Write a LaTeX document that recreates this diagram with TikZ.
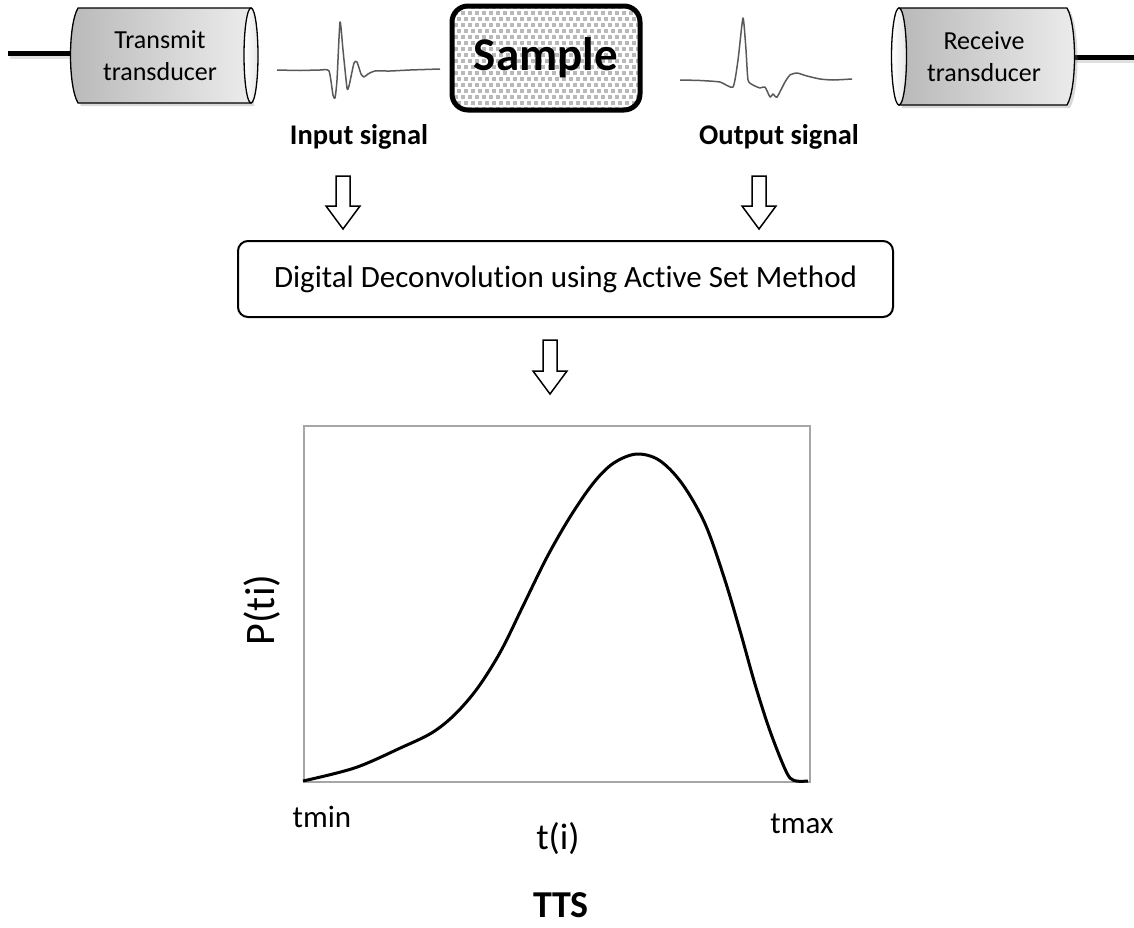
\documentclass[tikz,border=0pt]{standalone}
\usepackage{fontspec}
\setmainfont{Carlito}[Ligatures=NoCommon]
\usetikzlibrary{positioning, calc, shadows}

\newcommand{\fsize}[2]{\fontsize{#1}{#2}\selectfont}
% hollow block arrow between two named coordinates
\newcommand{\blockarrow}[2]{%
  \draw[hollowarrow] let \p1=(#1), \p2=(#2) in
    (\x1-7pt,\y1) -- (\x1+7pt,\y1) -- (\x1+7pt,\y2+23pt) -- (\x1+17pt,\y2+23pt)
    -- (\x1,\y2) -- (\x1-17pt,\y2+23pt) -- (\x1-7pt,\y2+23pt) -- cycle;}

\begin{document}
\begin{tikzpicture}[
  x=1pt, y=-1pt,
  every node/.style={inner sep=0pt},
  caption/.style={font=\fsize{28.5}{34}\bfseries},
  tdtext/.style={font=\fsize{26}{32}, align=center},
  cylbody/.style={draw, line width=1.3pt, left color=gray!55, right color=gray!15,
    drop shadow={shadow xshift=3pt, shadow yshift=-3pt, opacity=0.3}},
  cylface/.style={draw, line width=1.3pt, left color=white, right color=gray!20},
  wire/.style={line width=5pt},
  wireshadow/.style={line width=5pt, gray!40, opacity=0.6},
  sig/.style={gray!70!black, line width=1.5pt, line join=round},
  hollowarrow/.style={draw, line width=1.5pt, fill=white, line join=miter},
  procbox/.style={draw, line width=2pt, rounded corners=10pt, font=\fsize{31}{36}},
  axlabel/.style={font=\fsize{31}{31}}
]
\useasboundingbox (0,0) rectangle (1134,927);

% Transmit transducer
\coordinate (txwire) at (8,53);
\coordinate (txback) at (72,53);
\draw[wireshadow] ($(txwire)+(2,3)$) -- ($(txback)+(2,3)$);
\draw[wire] (txwire) -- (txback);
\path[cylbody] (78,8) -- (251,8) -- (251,103) -- (78,103)
  .. controls (68,86) and (68,25) .. (78,8) -- cycle;
\path[cylface] (251,55.5) ellipse [x radius=7, y radius=47.5];
\node[tdtext] (tx) at (160,56) {Transmit\\transducer};

% Receive transducer
\coordinate (rxwire) at (1134,57);
\coordinate (rxback) at (1072,57);
\draw[wireshadow] ($(rxback)+(2,3)$) -- ($(rxwire)+(2,3)$);
\draw[wire] (rxback) -- (rxwire);
\path[cylbody] (899,8) -- (1067,8) .. controls (1077,25) and (1077,88) .. (1067,105)
  -- (899,105) -- cycle;
\path[cylface] (899,56.5) ellipse [x radius=7.5, y radius=48.5];
\node[tdtext] (rx) at (984,57) {Receive\\transducer};

% Input signal
\draw[sig] plot[smooth, tension=0.35] coordinates {(277,70) (300,70.5) (320,70) (329,71)
  (333,95) (335,98) (337,80) (340,22) (343,50) (347,88) (349,86) (354,63) (357,62)
  (361,74) (364,77) (368,74) (375,71) (390,71) (410,70) (440,69)};
\node[caption] (inlbl) at (359,137) {Input signal};

% Sample
\begin{scope}
  \clip[rounded corners=16pt] (452,6) rectangle (640,110);
  \foreach \r in {0,...,17}
    \foreach \c in {0,...,28} {
      \pgfmathsetmacro\sx{450+\c*7+mod(\r,2)*3.5}
      \pgfmathsetmacro\sy{5+\r*6}
      \fill[gray!55] (\sx,\sy) rectangle ++(4,4);
    }
\end{scope}
\node[draw, line width=5pt, rounded corners=16pt, minimum width=188pt,
  minimum height=104pt] (sample) at (546,58) {};
\node[font=\fsize{47}{47}\bfseries] at (sample) {Sample};

% Output signal
\draw[sig] plot[smooth, tension=0.35] coordinates {(680,80) (700,80.5) (720,82) (733,87)
  (738,60) (743,18) (746,50) (748,80) (753,85) (760,88) (765,87) (770,97) (773,94)
  (777,97) (785,82) (790,75) (797,73) (807,76) (820,79) (833,80) (852,79)};
\node[caption] (outlbl) at (779,137) {Output signal};

% Deconvolution step
\coordinate (a1top) at (343,176);
\coordinate (a1tip) at (343,229);
\coordinate (a2top) at (759,176);
\coordinate (a2tip) at (759,229);
\blockarrow{a1top}{a1tip}
\blockarrow{a2top}{a2tip}
\node[procbox, minimum width=655pt, minimum height=76pt] (decon) at (565.5,279)
  {Digital Deconvolution using Active Set Method};
\coordinate (a3top) at (550,340);
\coordinate (a3tip) at (550,394);
\blockarrow{a3top}{a3tip}

% TTS plot
\node[draw=gray!70, line width=1.5pt, minimum width=506pt, minimum height=356pt,
  anchor=north west] (plotbox) at (303,425) {};
\draw[line width=3pt, line join=round] plot[smooth, tension=0.55] coordinates {
  (303,781) (355,767.8) (401,747.7) (432,732.7) (455,714.3) (478,687.5) (501,650.8)
  (524,603.9) (547,557.1) (570,517) (593,483.5) (613,463.5) (636,454.1) (659,460.1)
  (682,483.5) (705,523.7) (724,577.2) (740,630.7) (755,684.2) (770,731) (786,771.2)
  (794,780.5) (808,781)};
\node[font=\fsize{42}{42}, rotate=90] (pti) at (262,610) {P(ti)};
\node[axlabel] (tmin) at (322,817) {tmin};
\node[axlabel] (tmax) at (802,824) {tmax};
\node[font=\fsize{37}{37}] (ti) at (558,839) {t(i)};
\node[font=\fsize{38}{38}\bfseries] (tts) at (561,905) {TTS};
\end{tikzpicture}
\end{document}
